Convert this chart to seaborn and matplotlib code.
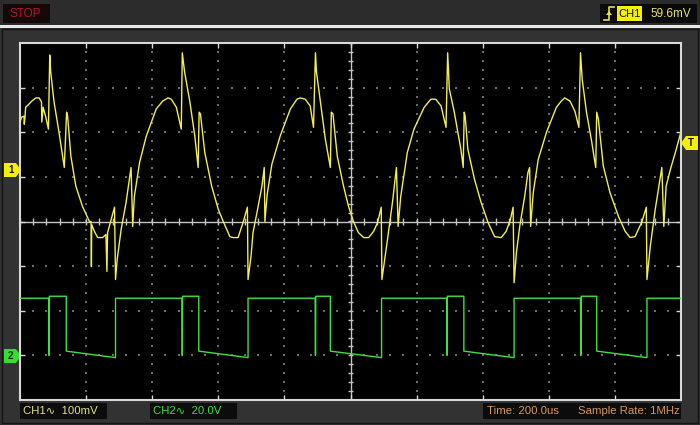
import numpy as np
import pandas as pd
import seaborn as sns
import matplotlib.pyplot as plt
from matplotlib.patches import Rectangle, Polygon

# CH1 trace, time in us, voltage in mV (100 mV/div)
ch1_time = [-1000, -995, -988, -987, -985, -983, -973, -964, -952, -942, -935, -934, -930, -922, -914,
            -910, -907, -897, -882, -866, -859, -856, -846, -831, -811, -790, -785, -784, -783, -775,
            -765, -750, -740, -737, -735, -724, -714, -711, -706, -694, -679, -664, -659, -654, -638,
            -618, -588, -568, -552, -542, -527, -512, -509, -502, -486, -471, -461, -458, -454, -441,
            -420, -400, -385, -365, -355, -340, -334, -325, -312, -310, -301, -295, -283, -268, -261,
            -259, -252, -238, -213, -182, -162, -152, -137, -122, -112, -106, -103, -91, -76, -61,
            -58, -53, -40, -21, -6, 9, 24, 40, 55, 70, 82, 93, 95, 112, 127,
            139, 144, 152, 172, 192, 223, 243, 258, 274, 289, 294, 299, 314, 334, 341,
            344, 347, 355, 375, 395, 416, 436, 456, 471, 484, 492, 495, 502, 512, 527,
            537, 542, 545, 553, 568, 593, 623, 638, 648, 664, 679, 691, 696, 701, 714,
            730, 742, 745, 750, 765, 785, 811, 831, 846, 861, 882, 895, 897, 907, 922,
            942, 948, 955, 968, 983, 998]
ch1_mv = [106, 117, 119, 101, 115, 139, 146, 153, 160, 160, 151, 106, 139, 117, 90,
          256, 218, 151, 83, 4, 128, 119, 29, -38, -83, -117, -117, -218, -124, -139,
          -153, -153, -146, -229, -142, -112, -85, -247, -202, -135, -74, 4, -128, -61, 16,
          74, 135, 153, 160, 157, 139, 90, 261, 218, 151, 74, 4, 128, 124, 38,
          -38, -90, -117, -151, -153, -153, -139, -119, -85, -247, -195, -142, -97, -38, 4,
          -117, -56, 11, 74, 135, 157, 160, 157, 142, 94, 261, 218, 151, 67, 4,
          128, 124, 29, -38, -83, -117, -142, -153, -153, -139, -119, -85, -247, -157, -74,
          4, -128, -61, 38, 90, 139, 157, 157, 142, 94, 261, 180, 128, 45, 4,
          128, 119, 45, -22, -74, -119, -151, -153, -139, -112, -85, -254, -187, -128, -61,
          -7, 4, -128, -52, 22, 83, 139, 153, 160, 153, 130, 94, 261, 202, 128,
          61, 4, 128, 112, 7, -52, -106, -139, -153, -151, -117, -85, -247, -173, -90,
          4, -128, -38, 0, 38, 79]

# CH2 trace, time in us, voltage in V (20 V/div)
ch2_time = [-1000, -913, -912, -911, -860, -860, -711, -711, -510, -509, -508, -459, -459, -310, -310,
            -107, -106, -105, -61, -61, 94, 94, 291, 292, 293, 343, 343, 495, 495, 696,
            697, 698, 745, 745, 897, 897, 1000]
ch2_v = [25.6, 25.6, 0.0, 26.5, 26.5, 1.9, -1.0, 25.6, 25.6, 0.0, 26.5, 26.5, 1.9, -1.0, 25.6,
         25.6, 0.0, 26.5, 26.5, 1.9, -1.0, 25.6, 25.6, 0.0, 26.5, 26.5, 1.9, -1.0, 25.6, 25.6,
         0.0, 26.5, 26.5, 1.9, -1.0, 25.6, 25.6]

ch1_offset = 1.17   # divisions above screen centre
ch2_offset = -3.0

W, H = 700, 425
plt.rcParams['font.family'] = ['Liberation Sans', 'DejaVu Sans']
fig = plt.figure(figsize=(7, 4.25), dpi=100, facecolor='#303030')


def px_rect(x0, y0, x1, y1, color, **kw):
    fig.patches.append(Rectangle((x0 / W, 1 - y1 / H), (x1 - x0) / W, (y1 - y0) / H,
                                 transform=fig.transFigure, facecolor=color, **kw))


def px_poly(pts, color):
    fig.patches.append(Polygon([(x / W, 1 - y / H) for x, y in pts], closed=True,
                               transform=fig.transFigure, facecolor=color, edgecolor='none'))


def px_text(x, y, s, **kw):
    fig.text(x / W, 1 - y / H, s, va='center', **kw)


# background panels
px_rect(0, 0, 700, 26, '#2c2c2c', edgecolor='none')
px_rect(0, 25, 700, 27.5, '#e8e8e8', edgecolor='none')
px_rect(2, 29, 698, 423, '#323232', edgecolor='#151515', linewidth=1)

# header
px_rect(3, 4, 50, 23, '#140808', edgecolor='none')
px_text(9, 14, 'STOP', color='#b8142a', fontsize=8.5)
px_rect(600, 4, 697, 23, '#0a0a0a', edgecolor='none')
fig.lines.append(plt.Line2D([604 / W, 609 / W, 609 / W, 614 / W],
                            [1 - 20 / H, 1 - 20 / H, 1 - 7 / H, 1 - 7 / H],
                            transform=fig.transFigure, color='#e8e040', linewidth=1.2))
px_poly([(606, 15), (612, 15), (609, 11)], '#e8e040')
px_rect(617, 6, 642, 21, '#f4f000', edgecolor='none')
px_text(618.5, 14, 'CH1', color='#101010', fontsize=8)
px_text(650, 14, '59.6mV', color='#e8e070', fontsize=8.5)

# footer
px_rect(20, 403, 107, 419, '#0c0c0c', edgecolor='none')
px_text(23, 411, 'CH1\u223f  100mV', color='#e4e07a', fontsize=8.2)
px_rect(150, 403, 237, 419, '#0c0c0c', edgecolor='none')
px_text(153, 411, 'CH2\u223f  20.0V', color='#3ede3e', fontsize=8.2)
px_rect(483, 403, 681, 419, '#0c0c0c', edgecolor='none')
px_text(487, 411, 'Time: 200.0us', color='#d8965a', fontsize=8.2)
px_text(578, 411, 'Sample Rate: 1MHz', color='#d8965a', fontsize=8.2)

# channel markers
px_poly([(4, 163), (16, 163), (21, 170), (16, 177), (4, 177)], '#f4f000')
px_text(8, 170, '1', color='#101010', fontsize=7, fontweight='bold')
px_poly([(4, 349), (16, 349), (21, 356), (16, 363), (4, 363)], '#30e030')
px_text(8, 356, '2', color='#101010', fontsize=7, fontweight='bold')
px_poly([(681, 143), (686, 136), (698, 136), (698, 150), (686, 150)], '#f4f000')
px_text(688, 143, 'T', color='#101010', fontsize=7, fontweight='bold')

# screen
ax = fig.add_axes([20 / W, 1 - 400 / H, 661 / W, 357 / H])
ax.set_zorder(10)
ax.set_facecolor('black')
ax.set_xlim(-1000, 1000)
ax.set_ylim(-4, 4)
for s in ax.spines.values():
    s.set_color('#d8d8d8')
    s.set_linewidth(1.5)

# dotted graticule
gx, gy = [], []
for xv in range(-800, 1000, 200):
    if xv == 0:
        continue
    ys = np.arange(-4, 4.01, 0.2)
    gx += [xv] * len(ys)
    gy += list(ys)
for yv in range(-3, 4):
    if yv == 0:
        continue
    xs = np.arange(-1000, 1001, 40)
    gx += list(xs)
    gy += [yv] * len(xs)
ax.scatter(gx, gy, s=0.8, marker='s', color='#6a6a6a', linewidths=0, zorder=1)

ax.axhline(0, color='#c4c4c4', linewidth=1, zorder=2)
ax.axvline(0, color='#c4c4c4', linewidth=1, zorder=2)
ax.vlines(np.arange(-1000, 1001, 40), -0.07, 0.07, color='#c4c4c4', linewidth=1, zorder=2)
ax.hlines(np.arange(-4, 4.01, 0.2), -9, 9, color='#c4c4c4', linewidth=1, zorder=2)
major_x = np.arange(-800, 1000, 200)
ax.vlines(major_x, -4, -3.88, color='#d8d8d8', linewidth=1)
ax.vlines(major_x, 3.88, 4, color='#d8d8d8', linewidth=1)
major_y = np.arange(-3, 4)
ax.hlines(major_y, -1000, -985, color='#d8d8d8', linewidth=1)
ax.hlines(major_y, 985, 1000, color='#d8d8d8', linewidth=1)

df1 = pd.DataFrame({'t': ch1_time, 'div': np.array(ch1_mv) / 100 + ch1_offset})
df2 = pd.DataFrame({'t': ch2_time, 'div': np.array(ch2_v) / 20 + ch2_offset})
sns.lineplot(data=df2, x='t', y='div', sort=False, estimator=None, color='#40e040',
             linewidth=1.0, ax=ax, zorder=3)
sns.lineplot(data=df1, x='t', y='div', sort=False, estimator=None, color='#f0ee50',
             linewidth=1.0, ax=ax, zorder=4)
ax.set_xlabel('')
ax.set_ylabel('')
ax.set_xticks([])
ax.set_yticks([])

fig.savefig('out.png', dpi=100, facecolor=fig.get_facecolor())
